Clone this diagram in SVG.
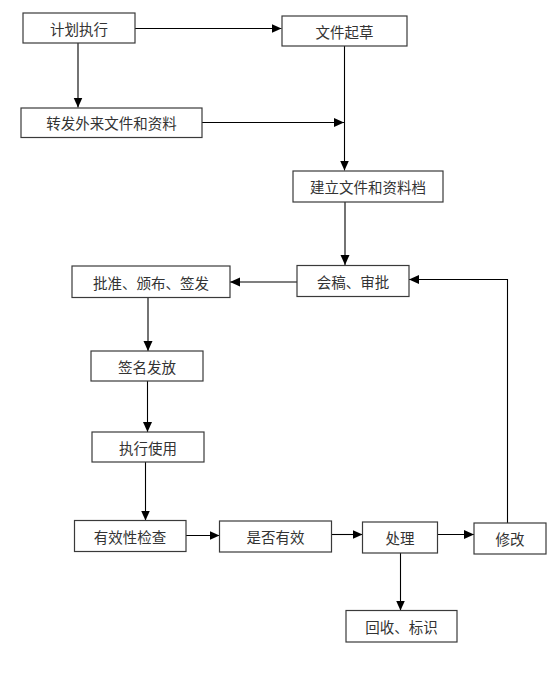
<svg xmlns="http://www.w3.org/2000/svg" width="555" height="682" viewBox="0 0 555 682">
<style>
.box{fill:#fff;stroke:#3a3a3a;stroke-width:1.2}
.lbl{font-family:"Noto Sans CJK SC","Noto Sans CJK TC",sans-serif;font-size:14.5px;fill:#333;text-anchor:middle;dominant-baseline:central}
.c{fill:none;stroke:#000;stroke-width:1.1;marker-end:url(#ah)}
</style>
<defs>
<marker id="ah" markerUnits="userSpaceOnUse" markerWidth="11" markerHeight="10" refX="10" refY="4.5" orient="auto">
<path d="M0,0 L10,4.5 L0,9 z" fill="#000"/>
</marker>
</defs>
<rect width="555" height="682" fill="#fff"/>
<g id="connectors">
<path class="c" d="M135,28.5 H281.5"/>
<path class="c" d="M78,43 V107.5"/>
<path class="c" d="M202,122.5 H344"/>
<path class="c" d="M344.5,46 V170.5"/>
<path class="c" d="M345,202 V265"/>
<path class="c" d="M297,282 H230"/>
<path class="c" d="M148,298 V351"/>
<path class="c" d="M147.5,381 V432"/>
<path class="c" d="M145.5,462 V520.5"/>
<path class="c" d="M186,535.5 H219.5"/>
<path class="c" d="M332,534.5 H362.5"/>
<path class="c" d="M437,534.5 H474"/>
<path class="c" d="M507.5,523 V279.5 H409"/>
<path class="c" d="M400.5,553 V610.5"/>
</g>
<g id="n1"><rect class="box" x="23" y="13" width="112" height="30"/><text class="lbl" x="79" y="28">计划执行</text></g>
<g id="n2"><rect class="box" x="282" y="16" width="125" height="30"/><text class="lbl" x="344.5" y="31">文件起草</text></g>
<g id="n3"><rect class="box" x="21" y="108" width="181" height="29.5"/><text class="lbl" x="111.5" y="122.5">转发外来文件和资料</text></g>
<g id="n4"><rect class="box" x="293" y="171" width="150" height="31"/><text class="lbl" x="368" y="186.5">建立文件和资料档</text></g>
<g id="n5"><rect class="box" x="297" y="265.5" width="112" height="31"/><text class="lbl" x="353" y="281">会稿、审批</text></g>
<g id="n6"><rect class="box" x="72" y="266" width="158" height="31.5"/><text class="lbl" x="151" y="282">批准、颁布、签发</text></g>
<g id="n7"><rect class="box" x="91" y="351" width="112" height="30"/><text class="lbl" x="147" y="366">签名发放</text></g>
<g id="n8"><rect class="box" x="92" y="432" width="112" height="30"/><text class="lbl" x="148" y="447">执行使用</text></g>
<g id="n9"><rect class="box" x="74.5" y="520.5" width="111.5" height="31"/><text class="lbl" x="130" y="536">有效性检查</text></g>
<g id="n10"><rect class="box" x="219.5" y="521" width="112" height="31"/><text class="lbl" x="275.5" y="536">是否有效</text></g>
<g id="n11"><rect class="box" x="362.5" y="522" width="75" height="31"/><text class="lbl" x="400" y="537">处理</text></g>
<g id="n12"><rect class="box" x="474" y="523" width="72" height="31"/><text class="lbl" x="510" y="538">修改</text></g>
<g id="n13"><rect class="box" x="346" y="610.5" width="111" height="31.5"/><text class="lbl" x="401.5" y="626">回收、标识</text></g>
</svg>
